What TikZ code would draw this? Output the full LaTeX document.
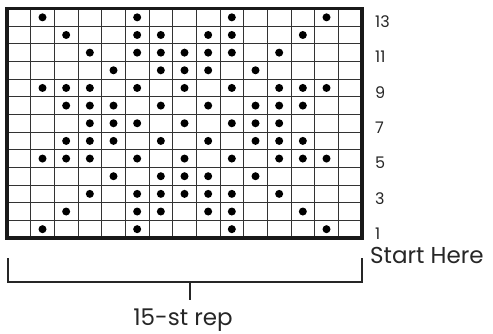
\documentclass[tikz,border=0pt]{standalone}
\usepackage{fontspec}
\setmainfont{Poppins}
\begin{document}
\begin{tikzpicture}[x=1pt,y=-1pt,
  gridline/.style={draw=black!80,line width=0.8pt},
  frame/.style={draw=black!90,line width=3.2pt},
  stitch/.style={circle,fill=black,inner sep=0pt,minimum size=8pt},
  rowlab/.style={anchor=base west,inner sep=0pt,font=\fontsize{16}{16}\selectfont,text=black!85},
  biglab/.style={inner sep=0pt,font=\fontsize{23}{23}\selectfont,text=black!85},
  brace/.style={draw=black!85,line width=2.4pt}]
\useasboundingbox (0,0) rectangle (493,333);
\def\L{7}\def\R{362}\def\T{8.5}\def\B{238}
\def\W{23.6667}\def\H{17.654}
\foreach \i in {1,...,14} \draw[gridline] ({\L+\i*\W},\T) -- ({\L+\i*\W},\B);
\foreach \j in {1,...,12} \draw[gridline] (\L,{\T+\j*\H}) -- (\R,{\T+\j*\H});
\draw[frame] (\L,\T) rectangle (\R,\B);
\foreach \r/\cols in {13/{2,6,10,14},12/{3,6,7,9,10,13},11/{4,6,7,8,9,10,12},10/{5,7,8,9,11},
  9/{2,3,4,6,8,10,12,13,14},8/{3,4,5,7,9,11,12,13},7/{4,5,6,8,10,11,12},6/{3,4,5,7,9,11,12,13},
  5/{2,3,4,6,8,10,12,13,14},4/{5,7,8,9,11},3/{4,6,7,8,9,10,12},2/{3,6,7,9,10,13},1/{2,6,10,14}}
  \foreach \c in \cols
    \node[stitch] (d\r-\c) at ({\L+(\c-0.5)*\W},{\B-(\r-0.5)*\H}) {};
\foreach \r in {1,3,...,13}
  \node[rowlab] (row\r) at (375,{\B-(\r-1)*\H+1.5}) {\r};
\node[biglab,anchor=base west] (start) at (370,263) {Start Here};
\coordinate (bl) at (8,258);
\coordinate (blc) at (8,282);
\coordinate (brc) at (362,282);
\coordinate (br) at (362,258);
\coordinate (tk) at (190,282);
\coordinate (tkend) at (190,300);
\draw[brace] (bl) -- (blc) -- (brc) -- (br);
\draw[brace] (tk) -- (tkend);
\node[biglab,anchor=base] (rep) at (183,325) {15-st rep};
\end{tikzpicture}
\end{document}
